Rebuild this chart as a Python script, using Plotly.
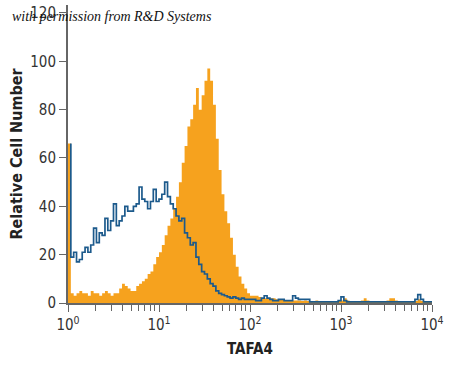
import plotly.graph_objects as go

# ---- data (bins of 1/32 decade from 10^0 to 10^4) ----
decade_start = 0
decade_end = 4
bins_per_decade = 32

tafa4_stain = [
    66,
    4, 3, 4, 5, 4, 4, 3, 5, 4, 4,
    3, 4, 5, 4, 3, 4, 4,
    6, 8, 7, 6, 5, 5,
    7, 8, 9, 10, 12, 13, 16, 19,
    21, 24, 28, 32, 35, 39, 44, 50,
    58, 65, 73, 76, 82, 89, 80, 86,
    92, 97, 92, 82, 68, 55, 45, 38,
    33, 27, 20, 15, 11, 8, 6, 4,
    3, 3, 3, 2.5, 2, 2, 2,
    2, 2, 1.5, 1.5, 1.5, 1, 1, 1, 1, 1,
    1, 0.8, 1, 0.8, 0.8, 0.8, 1, 0.8, 0.8, 0.8, 0.8, 0.8, 0.8, 0.8, 0.8,
    1, 2, 1, 0.8,
    0.8, 0.8, 0.8, 1, 2, 1, 0.8, 0.8, 0.8, 0.8, 0.8, 0.8, 1,
    2, 2,
    1, 0.8, 0.8, 0.8, 0.8, 0.8, 0.8, 0.8,
    1.5,
    0.8, 0.8, 0.8, 0.8,
]

isotype_control = [
    66,
    19, 21, 17, 18, 21, 23, 21, 24, 31, 25,
    29, 28, 35, 30, 34, 41, 32, 34, 36, 40,
    38, 38, 40, 41, 48, 43, 42, 39, 42, 47,
    42, 43, 45, 50, 44, 41, 39, 36, 34, 35,
    29, 27, 24, 25, 19, 16, 13, 12, 10, 8,
    7, 5, 4, 3.5, 3, 2.5, 2, 2.5, 2, 1.5,
    2, 1.5, 1.5, 1.5, 1.5, 1, 1, 2, 3, 2,
    1.5, 1, 1, 1.5, 1.5, 1, 1, 1, 3, 2,
    1.5, 1.5, 1.5, 1.5,
    0.5, 0.5, 0.5, 0.5, 0.5, 0.5, 0.5, 0.5, 0.5, 0.5,
    1, 2.5, 1,
    0.5, 0.5, 0.5, 0.5, 0.5, 0.5, 0.5, 0.5, 0.5, 0.5, 0.5, 0.5,
    0.5, 0.5, 0.5, 0.5, 0.5, 0.5, 0.5, 0.5, 0.5, 0.5, 0.5, 0.5,
    1.5, 3.5, 1.5,
    0.5, 0.5, 0.5,
]

y_ticks = [0, 20, 40, 60, 80, 100, 120]
x_tickvals = [1, 10, 100, 1000, 10000]
x_ticktext = ["10<sup>0</sup>", "10<sup>1</sup>", "10<sup>2</sup>", "10<sup>3</sup>", "10<sup>4</sup>"]
x_title = "TAFA4"
y_title = "Relative Cell Number"
note = "with permission from R&D Systems"

# ---- build step coordinates ----
n_bins = len(tafa4_stain)
edges = [10 ** (decade_start + i / bins_per_decade) for i in range(n_bins + 1)]

ox = edges
oy = tafa4_stain + [tafa4_stain[-1]]
bx = [edges[1]] + edges[1:]
by = isotype_control + [isotype_control[-1]]

minor_vals = [k * 10 ** d for d in range(decade_start, decade_end) for k in range(2, 10)]

ORANGE = "#F6A21E"
BLUE = "#1C5A8C"
AXIS = "#666666"
TXT = "#333333"
NARROW = "DejaVu Sans Condensed, Liberation Sans Narrow, sans-serif"

fig = go.Figure()
fig.add_trace(go.Scatter(
    x=ox, y=oy, mode="lines", line=dict(shape="hv", width=0, color=ORANGE),
    fill="tozeroy", fillcolor=ORANGE, name="TAFA4", hoverinfo="skip"))
fig.add_trace(go.Scatter(
    x=bx, y=by, mode="lines", line=dict(shape="hv", width=1.7, color=BLUE),
    name="Isotype control", hoverinfo="skip"))

fig.update_layout(
    width=450, height=366,
    margin=dict(l=68, r=18, t=5, b=63, autoexpand=False),
    paper_bgcolor="white", plot_bgcolor="white",
    showlegend=False,
    font=dict(family=NARROW, size=15, color=TXT),
)
fig.update_xaxes(
    type="log", range=[decade_start, decade_end], automargin=False,
    showgrid=False, zeroline=False,
    showline=True, linecolor=AXIS, linewidth=2,
    ticks="outside", ticklen=7, tickwidth=1, tickcolor=AXIS,
    tickvals=x_tickvals, ticktext=x_ticktext,
    tickfont=dict(family=NARROW, size=15, color=TXT),
    minor=dict(tickvals=minor_vals, ticks="outside", ticklen=6, tickwidth=1, tickcolor=AXIS, showgrid=False),
    title=dict(text="<b>" + x_title + "</b>", font=dict(family=NARROW, size=15, color="#222222"), standoff=10),
)
fig.update_yaxes(
    range=[0, 123.3], automargin=False,
    showgrid=False, zeroline=False,
    showline=True, linecolor=AXIS, linewidth=2,
    ticks="outside", ticklen=7, tickwidth=1, tickcolor=AXIS,
    tickvals=y_ticks,
    tickfont=dict(family=NARROW, size=15, color=TXT),
    title=dict(text="<b>" + y_title + "</b>", font=dict(family=NARROW, size=16, color="#222222"), standoff=4),
)
fig.add_annotation(
    text="<i>" + note + "</i>", xref="paper", yref="paper",
    x=-0.159, y=(303 - 16) / 298, xanchor="left", yanchor="middle",
    showarrow=False, font=dict(family="Liberation Serif, DejaVu Serif, serif", size=14, color="#111111"),
)

fig.write_html("out.html", config={"displayModeBar": False},
               post_script="document.body.style.margin='0px';")
